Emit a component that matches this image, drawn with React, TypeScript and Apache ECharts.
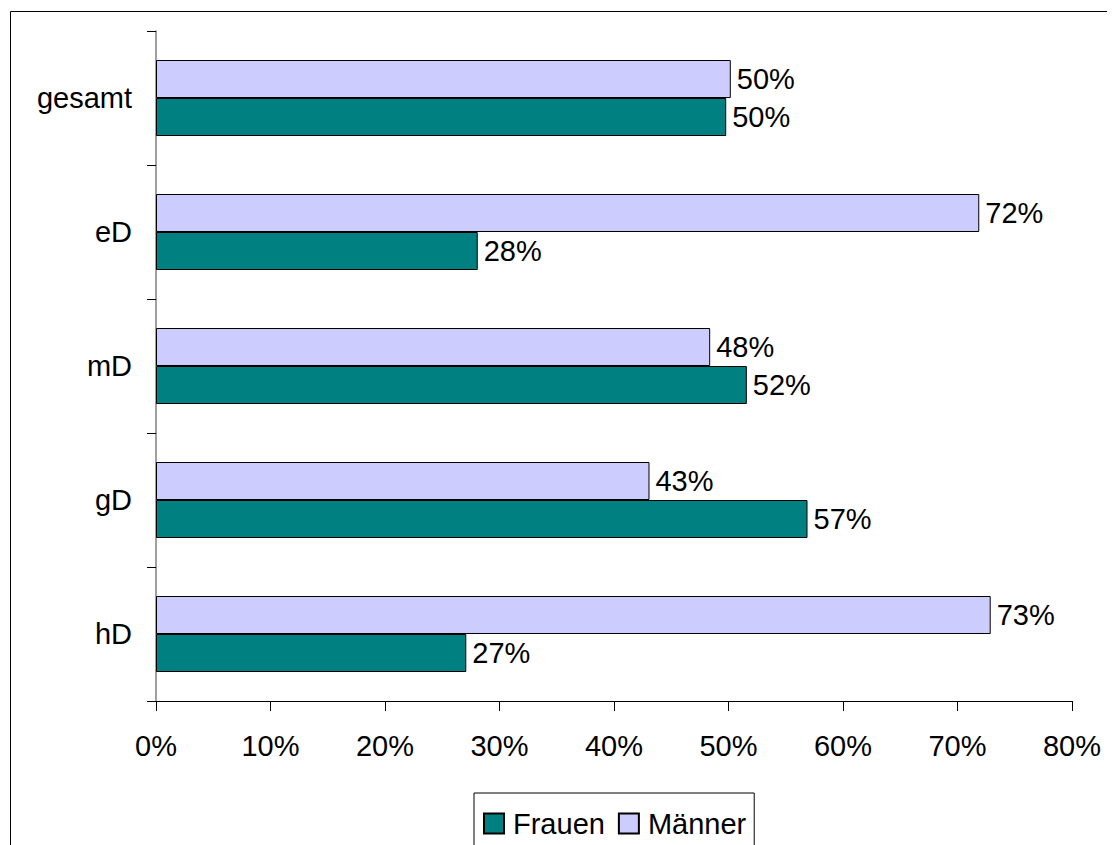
import React, { useEffect, useRef } from "react";
import * as echarts from "echarts";

const categories = ["hD", "gD", "mD", "eD", "gesamt"];
const frauen = [27.1, 56.9, 51.6, 28.1, 49.8];
const maenner = [72.9, 43.1, 48.4, 71.9, 50.2];
const xTicks = { min: 0, max: 80, interval: 10 };

const FONT = "'Liberation Sans', Arial, sans-serif";

export default function App() {
  const ref = useRef<HTMLDivElement>(null);
  useEffect(() => {
    if (!ref.current) return;
    const chart = echarts.init(ref.current, undefined, { renderer: "svg" });
    const label = {
      show: true,
      position: "right",
      distance: 6,
      color: "#000",
      fontSize: 29,
      fontFamily: FONT,
      formatter: (p: any) => Math.round(p.value) + "%",
    };
    chart.setOption({
      animation: false,
      backgroundColor: "#fff",
      textStyle: { fontFamily: FONT },
      graphic: [
        {
          type: "rect",
          shape: { x: 2.5, y: 3.5, width: 1200, height: 1000 },
          style: { fill: "none", stroke: "#000", lineWidth: 1 },
          silent: true,
          z: -10,
        },
      ],
      grid: { left: 148, right: 43, top: 23, bottom: 144, containLabel: false },
      legend: {
        data: ["Frauen", "Männer"],
        left: 466,
        top: 785,
        orient: "horizontal",
        itemWidth: 20,
        itemHeight: 20,
        itemGap: 13,
        padding: [16, 8, 16, 9],
        borderColor: "#000",
        borderWidth: 1,
        icon: "rect",
        textStyle: { color: "#000", fontSize: 29, fontFamily: FONT, padding: [0, 0, 0, 4] },
      },
      xAxis: {
        type: "value",
        min: xTicks.min,
        max: xTicks.max,
        interval: xTicks.interval,
        axisLine: { show: true, lineStyle: { color: "#000", width: 1 } },
        axisTick: { show: true, length: 10, lineStyle: { color: "#000" } },
        splitLine: { show: false },
        axisLabel: {
          formatter: "{value}%",
          color: "#000",
          fontSize: 29,
          fontFamily: FONT,
          margin: 30,
        },
      },
      yAxis: {
        type: "category",
        data: categories,
        axisLine: { show: true, lineStyle: { color: "#808080", width: 1.5 } },
        axisTick: { show: true, length: 9, lineStyle: { color: "#000" } },
        axisLabel: { color: "#000", fontSize: 29, fontFamily: FONT, margin: 24 },
        splitLine: { show: false },
      },
      series: [
        {
          name: "Männer",
          type: "bar",
          data: maenner,
          barWidth: 38,
          barGap: "0%",
          itemStyle: { color: "#CCCCFF", borderColor: "#000", borderWidth: 1 },
          label,
        },
        {
          name: "Frauen",
          type: "bar",
          data: frauen,
          barWidth: 38,
          barGap: "0%",
          itemStyle: { color: "#008080", borderColor: "#000", borderWidth: 1 },
          label,
        },
      ],
    });
    return () => chart.dispose();
  }, []);
  return <div ref={ref} style={{ width: 1107, height: 837 }} />;
}
